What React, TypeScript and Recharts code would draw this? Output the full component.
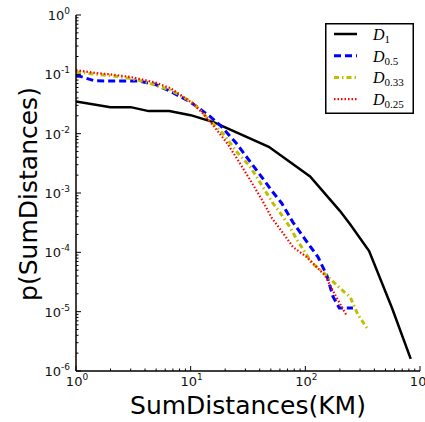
import React from 'react';
import { LineChart, Line, XAxis, YAxis, Legend, Label } from 'recharts';

// D_1
const d1X = [1, 2, 3, 4.3, 6.5, 10, 16, 48, 110, 200, 245, 360, 570, 830];
const d1Y = [0.035, 0.028, 0.028, 0.024, 0.024, 0.0205, 0.0155, 0.006, 0.0019, 0.0005, 0.0003, 1.05e-4, 1.15e-5, 1.6e-6];

// D_0.5
const d05X = [1, 1.45, 2, 3.5, 4.9, 6.6, 10, 15, 18, 25, 39, 52, 62, 78, 105, 129, 154, 174, 198, 260];
const d05Y = [0.097, 0.078, 0.077, 0.077, 0.068, 0.052, 0.034, 0.019, 0.014, 0.0069, 0.0022, 0.00104, 6.8e-4, 3.2e-4, 1.44e-4, 8.3e-5, 4.1e-5, 1.8e-5, 1.15e-5, 1.15e-5];

// D_0.33
const d033X = [1, 1.5, 2, 2.8, 4, 5.2, 6.6, 8, 10.5, 12.5, 15.6, 19, 25.8, 33, 40, 52, 62, 73, 85, 114, 142, 174, 221, 245, 288, 345];
const d033Y = [0.11, 0.1, 0.095, 0.087, 0.075, 0.063, 0.055, 0.045, 0.033, 0.023, 0.015, 0.0102, 0.0047, 0.0028, 0.00154, 6.8e-4, 4.3e-4, 2.7e-4, 1.6e-4, 6.6e-5, 4.7e-5, 3.2e-5, 2.1e-5, 1.8e-5, 8.8e-6, 5.3e-6];

// D_0.25
const d025X = [1, 1.5, 2, 3, 4, 5, 6.6, 8.6, 10.5, 12.8, 15.6, 20.8, 25.8, 33, 42, 51, 64, 78, 103, 126, 148, 188, 230];
const d025Y = [0.118, 0.105, 0.1, 0.09, 0.08, 0.072, 0.059, 0.042, 0.032, 0.022, 0.014, 0.0069, 0.0036, 0.00166, 7.6e-4, 3.8e-4, 2.1e-4, 1.23e-4, 8.3e-5, 5.6e-5, 4.1e-5, 1.7e-5, 8.5e-6];

const xMajors = [1, 10, 100, 1000];
const yMajors = [1e-6, 1e-5, 1e-4, 1e-3, 1e-2, 1e-1, 1];

const withMinors = (majors: number[]) => {
  const out: number[] = [];
  majors.forEach((m, i) => {
    out.push(m);
    if (i < majors.length - 1) for (let k = 2; k <= 9; k++) out.push(m * k);
  });
  return out;
};
const xTicks = withMinors(xMajors);
const yTicks = withMinors(yMajors);

const toPoints = (xs: number[], ys: number[]) => xs.map((x, i) => ({ x, y: ys[i] }));

const series = [
  { name: 'D1', sub: '1', data: toPoints(d1X, d1Y), color: '#000000', width: 2.5, dash: undefined },
  { name: 'D0.5', sub: '0.5', data: toPoints(d05X, d05Y), color: '#0000ff', width: 3, dash: '7 4' },
  { name: 'D0.33', sub: '0.33', data: toPoints(d033X, d033Y), color: '#bfbf00', width: 3, dash: '5 3 1.5 3' },
  { name: 'D0.25', sub: '0.25', data: toPoints(d025X, d025Y), color: '#ff0000', width: 2.2, dash: '1.5 2' },
];

const isMajor = (v: number) => {
  const e = Math.round(Math.log10(v));
  return Math.abs(v - Math.pow(10, e)) < 1e-6 * v;
};

const makeTick = (side: 'bottom' | 'top' | 'left' | 'right') => (props: any) => {
  const { x, y, payload } = props;
  const v = payload.value;
  const major = isMajor(v);
  const len = major ? 5 : 2.5;
  const e = Math.round(Math.log10(v));
  let line;
  if (side === 'bottom') line = <line x1={x} x2={x} y1={y} y2={y - len} stroke="#000" />;
  else if (side === 'top') line = <line x1={x} x2={x} y1={y} y2={y + len} stroke="#000" />;
  else if (side === 'left') line = <line x1={x} x2={x + len} y1={y} y2={y} stroke="#000" />;
  else line = <line x1={x} x2={x - len} y1={y} y2={y} stroke="#000" />;
  return (
    <g>
      {line}
      {major && side === 'bottom' && (
        <text x={x + 1} y={y + 15} textAnchor="middle" fontFamily="DejaVu Sans" fontSize={13} fill="#111">
          10<tspan dy={-6} fontSize={9}>{e}</tspan>
        </text>
      )}
      {major && side === 'left' && (
        <text x={x - 6} y={y + 5} textAnchor="end" fontFamily="DejaVu Sans" fontSize={13} fill="#111">
          10<tspan dy={-6} fontSize={9}>{e}</tspan>
        </text>
      )}
    </g>
  );
};

const renderLegend = () => (
  <svg width={89} height={91} style={{ display: 'block' }}>
    <rect x={0.75} y={0.75} width={87.5} height={89.5} fill="#fff" stroke="#000" strokeWidth={1.5} />
    {series.map((s, i) => {
      const cy = 11 + i * 21.7;
      return (
        <g key={s.name}>
          <line x1={9} x2={32} y1={cy} y2={cy} stroke={s.color} strokeWidth={s.width} strokeDasharray={s.dash} />
          <text x={48} y={cy + 6} fontFamily="Liberation Serif" fontStyle="italic" fontSize={16} fill="#000">
            D<tspan fontStyle="normal" fontSize={11} dy={3}>{s.sub}</tspan>
          </text>
        </g>
      );
    })}
  </svg>
);

export default function App() {
  return (
    <div style={{ position: 'absolute', left: 0, top: 0, background: '#fff' }}>
      <LineChart width={425} height={422} margin={{ top: 15, right: 5, bottom: 0, left: 0 }}>
        <XAxis
          xAxisId={0}
          dataKey="x"
          type="number"
          scale="log"
          domain={[1, 1000]}
          allowDataOverflow
          ticks={xTicks}
          interval={0}
          tick={makeTick('bottom')}
          tickLine={false}
          tickSize={0}
          tickMargin={0}
          height={51}
          axisLine={{ stroke: '#000', strokeWidth: 1.5 }}
        >
          <Label
            content={() => (
              <text x={248} y={414} textAnchor="middle" fontFamily="DejaVu Sans" fontSize={25} fill="#000">
                SumDistances(KM)
              </text>
            )}
          />
        </XAxis>
        <XAxis
          xAxisId="top"
          orientation="top"
          type="number"
          scale="log"
          domain={[1, 1000]}
          allowDataOverflow
          ticks={xTicks}
          interval={0}
          tick={makeTick('top')}
          tickLine={false}
          tickSize={0}
          tickMargin={0}
          height={0}
          axisLine={{ stroke: '#000', strokeWidth: 1.5 }}
        />
        <YAxis
          yAxisId={0}
          type="number"
          scale="log"
          domain={[1e-6, 1]}
          allowDataOverflow
          ticks={yTicks}
          interval={0}
          tick={makeTick('left')}
          tickLine={false}
          tickSize={0}
          tickMargin={0}
          width={76}
          axisLine={{ stroke: '#000', strokeWidth: 1.5 }}
        >
          <Label
            content={() => (
              <text
                x={37}
                y={194}
                transform="rotate(-90 37 194)"
                textAnchor="middle"
                fontFamily="DejaVu Sans"
                fontSize={25}
                fill="#000"
              >
                p(SumDistances)
              </text>
            )}
          />
        </YAxis>
        <YAxis
          yAxisId="right"
          orientation="right"
          type="number"
          scale="log"
          domain={[1e-6, 1]}
          allowDataOverflow
          ticks={yTicks}
          interval={0}
          tick={makeTick('right')}
          tickLine={false}
          tickSize={0}
          tickMargin={0}
          width={0}
          axisLine={{ stroke: '#000', strokeWidth: 1.5 }}
        />
        <Legend
          layout="vertical"
          align="center"
          verticalAlign="middle"
          content={renderLegend}
          wrapperStyle={{ left: 325, top: 23, width: 89, height: 91 }}
        />
        {series.map((s) => (
          <Line
            key={s.name}
            xAxisId={0}
            yAxisId={0}
            data={s.data}
            dataKey="y"
            name={s.name}
            type="linear"
            stroke={s.color}
            strokeWidth={s.width}
            strokeDasharray={s.dash}
            dot={false}
            isAnimationActive={false}
          />
        ))}
      </LineChart>
    </div>
  );
}
